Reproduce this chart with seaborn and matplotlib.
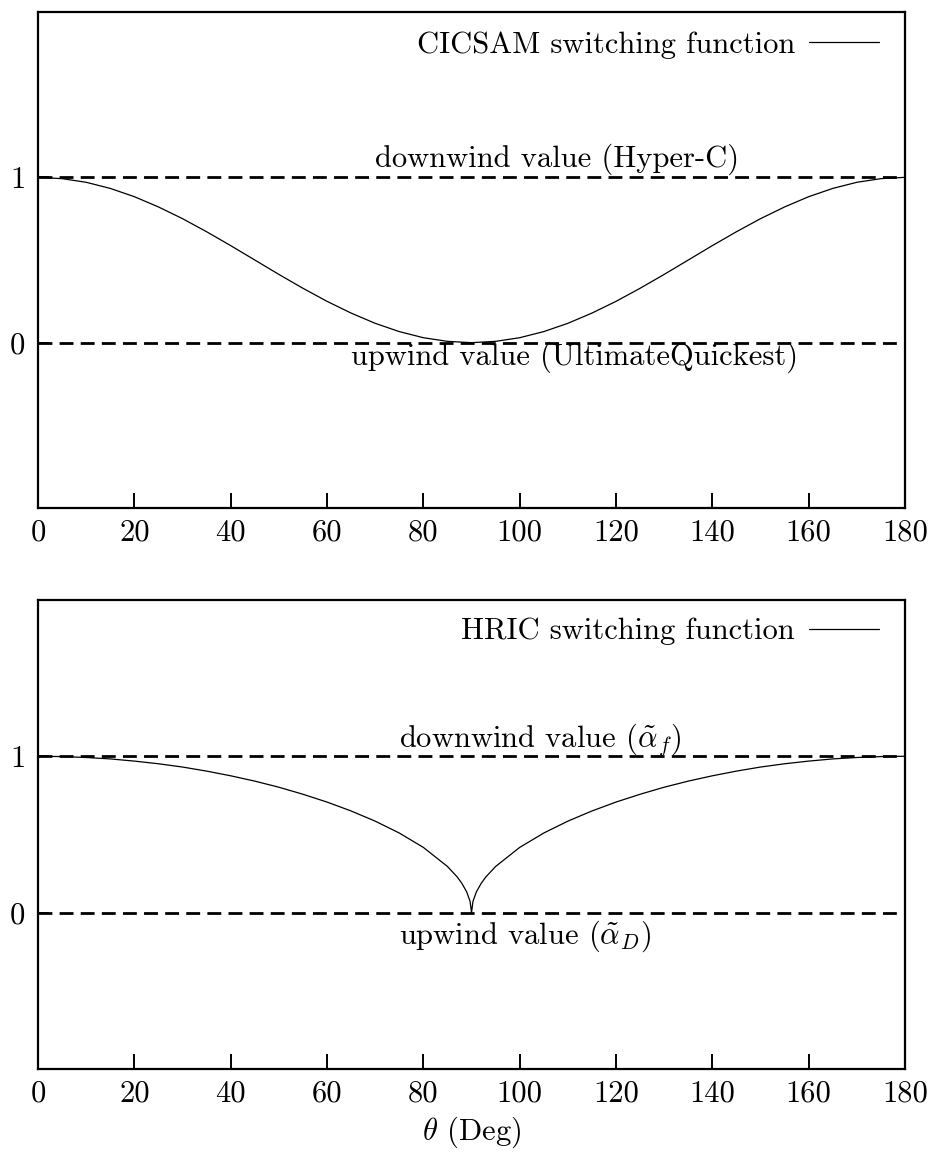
import matplotlib
matplotlib.use("Agg")
import matplotlib.pyplot as plt
import seaborn as sns

# values
theta_cicsam = [0, 5, 10, 15, 20, 25, 30, 35, 40, 45, 50, 55, 60, 65, 70, 75, 80, 85, 90,
                95, 100, 105, 110, 115, 120, 125, 130, 135, 140, 145, 150, 155, 160, 165, 170, 175, 180]
cicsam = [1.000, 0.992, 0.970, 0.933, 0.883, 0.821, 0.750, 0.671, 0.587, 0.500, 0.413, 0.329, 0.250,
          0.179, 0.117, 0.067, 0.030, 0.008, 0.000,
          0.008, 0.030, 0.067, 0.117, 0.179, 0.250, 0.329, 0.413, 0.500, 0.587, 0.671, 0.750, 0.821,
          0.883, 0.933, 0.970, 0.992, 1.000]

theta_hric = [0, 5, 10, 15, 20, 25, 30, 35, 40, 45, 50, 55, 60, 65, 70, 75, 80, 85, 87, 88, 89, 89.7, 90,
              90.3, 91, 92, 93, 95, 100, 105, 110, 115, 120, 125, 130, 135, 140, 145, 150, 155, 160, 165,
              170, 175, 180]
hric = [1.000, 0.998, 0.992, 0.983, 0.969, 0.952, 0.931, 0.905, 0.875, 0.841, 0.802, 0.757, 0.707,
        0.650, 0.585, 0.509, 0.417, 0.295, 0.229, 0.187, 0.132, 0.072, 0.000,
        0.072, 0.132, 0.187, 0.229, 0.295, 0.417, 0.509, 0.585, 0.650, 0.707, 0.757, 0.802, 0.841,
        0.875, 0.905, 0.931, 0.952, 0.969, 0.983, 0.992, 0.998, 1.000]

x_ticks = [0, 20, 40, 60, 80, 100, 120, 140, 160, 180]
y_ticks = [0, 1]
downwind_level = 1
upwind_level = 0

panels = [
    ("CICSAM switching function", theta_cicsam, cicsam,
     "downwind value (Hyper-C)", "upwind value (UltimateQuickest)"),
    ("HRIC switching function", theta_hric, hric,
     r"downwind value ($\tilde{\alpha}_f$)", r"upwind value ($\tilde{\alpha}_D$)"),
]

sns.set_style("ticks")
plt.rcParams.update({
    "font.family": "cmr10",
    "mathtext.fontset": "cm",
    "axes.formatter.use_mathtext": True,
    "font.size": 22,
    "text.color": "black",
    "axes.labelcolor": "black",
    "xtick.color": "black",
    "ytick.color": "black",
    "axes.edgecolor": "black",
    "axes.linewidth": 1.6,
})
FS = 22

fig = plt.figure(figsize=(9.34, 11.53), dpi=100)
ax_top = fig.add_axes([0.0407, 0.5594, 0.9283, 0.4302])
ax_bot = fig.add_axes([0.0407, 0.0729, 0.9283, 0.4068])

label_pos = [((70, 1.11), (65, -0.09)), ((75, 1.11), (75, -0.15))]
legend_anchor = [(1.0, 1.014), (1.0, 1.017)]

for ax, (name, th, val, down_txt, up_txt), (dpos, upos), anchor in zip(
        [ax_top, ax_bot], panels, label_pos, legend_anchor):
    sns.lineplot(x=th, y=val, ax=ax, color="black", linewidth=0.9, label=name)
    ax.axhline(downwind_level, color="black", linewidth=2.0, linestyle=(0, (5, 2.6)))
    ax.axhline(upwind_level, color="black", linewidth=2.0, linestyle=(0, (5, 2.6)))
    ax.text(dpos[0], dpos[1], down_txt, ha="left", va="center", fontsize=FS)
    ax.text(upos[0], upos[1], up_txt, ha="left", va="center", fontsize=FS)

    ax.set_xlim(0, 180)
    ax.set_ylim(-1, 2)
    ax.set_xticks(x_ticks)
    ax.set_xticklabels([str(t) for t in x_ticks])
    ax.set_yticks(y_ticks)
    ax.set_yticklabels([str(t) for t in y_ticks])
    ax.tick_params(axis="x", direction="in", length=11, width=1.4, top=False, pad=8, labelsize=FS)
    ax.tick_params(axis="y", direction="in", length=8, width=1.4, right=False, pad=9, labelsize=FS)
    for s in ax.spines.values():
        s.set_visible(True)
        s.set_linewidth(1.6)
    ax.set_xlabel("")
    ax.set_ylabel("")

    ax.legend(loc="upper right", bbox_to_anchor=anchor, frameon=False, markerfirst=False,
              handlelength=2.3, handletextpad=0.45, fontsize=FS, borderaxespad=0.45)

ax_bot.set_xlabel(r"$\theta$ (Deg)", fontsize=FS, labelpad=5)

fig.savefig("out.png", dpi=100)
plt.close(fig)
